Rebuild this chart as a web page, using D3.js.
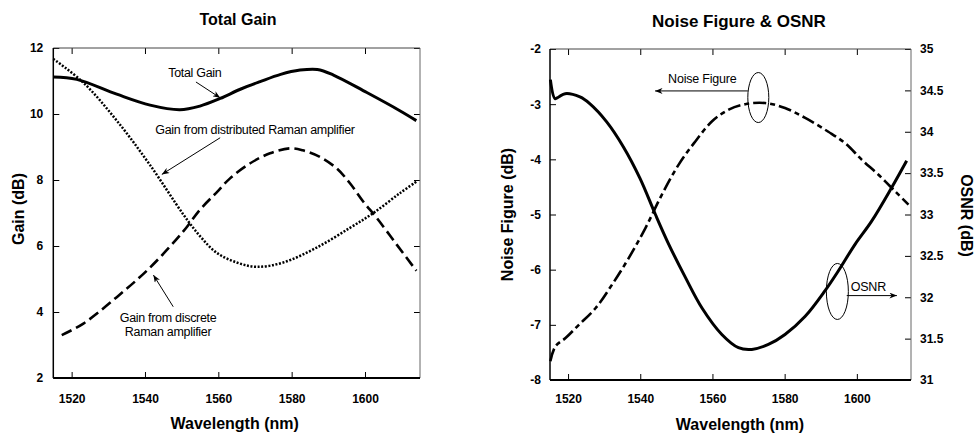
<!DOCTYPE html>
<html>
<head>
<meta charset="utf-8">
<script src="https://cdn.jsdelivr.net/npm/d3@7"></script>
<style>
  body { margin: 0; background: #fff; }
  text { font-family: "Liberation Sans", Arial, sans-serif; }
</style>
</head>
<body>
<svg id="chart" width="980" height="437"></svg>
<script>
// ---- left panel: Total Gain ----
const wlTicks = [1520, 1540, 1560, 1580, 1600];
const gainTicks = [2, 4, 6, 8, 10, 12];

const totalGainWl = [1515, 1521.4, 1532.3, 1541.4, 1549.5, 1555, 1560.5, 1566, 1571.4, 1577, 1582.3, 1587, 1591.4, 1600.5, 1609.5, 1614];
const totalGain   = [11.12, 11.05, 10.6, 10.27, 10.13, 10.24, 10.47, 10.75, 10.98, 11.2, 11.33, 11.35, 11.18, 10.65, 10.1, 9.8];

const distWl   = [1515, 1523.2, 1532.3, 1541.4, 1550.5, 1555, 1559.5, 1565, 1570.5, 1577.7, 1586.8, 1595.9, 1602.3, 1609.5, 1614];
const distGain = [11.67, 10.95, 9.8, 8.45, 6.95, 6.3, 5.8, 5.5, 5.37, 5.5, 5.95, 6.55, 7.0, 7.6, 7.95];

const discWl   = [1517.3, 1523.2, 1532.3, 1541.4, 1550.5, 1555, 1559.5, 1563.2, 1568.6, 1574.1, 1579.5, 1583, 1587.7, 1592.3, 1595.9, 1599.5, 1603.2, 1608.6, 1614];
const discGain = [3.3, 3.65, 4.45, 5.35, 6.45, 7.1, 7.62, 8.05, 8.5, 8.81, 8.96, 8.9, 8.7, 8.35, 7.9, 7.35, 6.85, 6.05, 5.25];

// ---- right panel: Noise Figure & OSNR ----
const nfTicks = [-2, -3, -4, -5, -6, -7, -8];
const osnrTicks = [31, 31.5, 32, 32.5, 33, 33.5, 34, 34.5, 35];

const osnrWl = [1515.1, 1516.4, 1517.4, 1519.2, 1523.3, 1526, 1530.7, 1535.3, 1539.9, 1544.2, 1547.9, 1552.5, 1557.1, 1562.6, 1567.2, 1570.9, 1575.5, 1580.1, 1585.7, 1591.2, 1594.9, 1599.5, 1604.1, 1609.7, 1613.8];
const osnr   = [34.63, 34.40, 34.42, 34.46, 34.42, 34.34, 34.12, 33.82, 33.44, 33.0, 32.64, 32.24, 31.87, 31.55, 31.39, 31.37, 31.43, 31.55, 31.77, 32.08, 32.32, 32.64, 32.92, 33.33, 33.65];

const nfWl = [1515.1, 1516.5, 1519.3, 1523, 1527.6, 1532.2, 1536.8, 1541.4, 1546, 1550.6, 1555.2, 1559.9, 1564.5, 1569.1, 1574.6, 1580.1, 1585.7, 1592.1, 1596.8, 1601.4, 1606, 1610.6, 1614.3];
const nf   = [-7.66, -7.39, -7.24, -7.0, -6.70, -6.27, -5.79, -5.25, -4.64, -4.10, -3.68, -3.31, -3.10, -3.0, -2.98, -3.07, -3.25, -3.50, -3.71, -4.01, -4.28, -4.58, -4.82];

const zip = (xs, ys) => xs.map((x, i) => ({ wl: x, v: ys[i] }));

const svg = d3.select("#chart");
svg.append("rect").attr("width", 980).attr("height", 437).attr("fill", "#fff");

const defs = svg.append("defs");
defs.append("marker")
    .attr("id", "arrow")
    .attr("viewBox", "0 0 10 8")
    .attr("refX", 10).attr("refY", 4)
    .attr("markerWidth", 8).attr("markerHeight", 6)
    .attr("markerUnits", "userSpaceOnUse")
    .attr("orient", "auto")
    .append("path")
    .attr("d", "M0,0 L10,4 L0,8 L3,4 z")
    .attr("fill", "#000");

function styleAxis(sel) {
    sel.select(".domain").remove();
    sel.selectAll(".tick line").attr("stroke", "#000").attr("stroke-width", 1);
    sel.selectAll(".tick text")
        .attr("fill", "#000")
        .style("font-size", "12px")
        .style("font-weight", "bold");
}

function frame(g, w, h) {
    g.append("line").attr("x1", 0).attr("x2", w).attr("y1", 0).attr("y2", 0)
        .attr("stroke", "#444").attr("stroke-width", 1);
    g.append("line").attr("x1", w).attr("x2", w).attr("y1", 0).attr("y2", h)
        .attr("stroke", "#666").attr("stroke-width", 1);
    g.append("line").attr("x1", 0).attr("x2", 0).attr("y1", 0).attr("y2", h)
        .attr("stroke", "#000").attr("stroke-width", 1.5);
    g.append("line").attr("x1", 0).attr("x2", w).attr("y1", h).attr("y2", h)
        .attr("stroke", "#000").attr("stroke-width", 2);
}

const fmt = d => String(d);

// ================= LEFT =================
const L = { left: 53.3, top: 48, w: 366.7, h: 330 };
const gL = svg.append("g").attr("transform", `translate(${L.left},${L.top})`);

const xL = d3.scaleLinear().domain([1515, 1615]).range([0, L.w]);
const yL = d3.scaleLinear().domain([2, 12]).range([L.h, 0]);

gL.append("g").attr("transform", `translate(0,${L.h})`)
    .call(d3.axisBottom(xL).tickValues(wlTicks).tickSize(-6).tickSizeOuter(0).tickPadding(16).tickFormat(fmt))
    .call(styleAxis);
gL.append("g")
    .call(d3.axisTop(xL).tickValues(wlTicks).tickSize(-6).tickSizeOuter(0).tickFormat(""))
    .call(styleAxis);
gL.append("g")
    .call(d3.axisLeft(yL).tickValues(gainTicks).tickSize(-6).tickSizeOuter(0).tickPadding(10).tickFormat(fmt))
    .call(styleAxis);
gL.append("g").attr("transform", `translate(${L.w},0)`)
    .call(d3.axisRight(yL).tickValues(gainTicks).tickSize(-6).tickSizeOuter(0).tickFormat(""))
    .call(styleAxis);
frame(gL, L.w, L.h);

const lineL = d3.line().x(d => xL(d.wl)).y(d => yL(d.v)).curve(d3.curveCatmullRom.alpha(0.5));

gL.append("path").datum(zip(distWl, distGain))
    .attr("fill", "none").attr("stroke", "#000").attr("stroke-width", 2.5)
    .attr("stroke-dasharray", "2,1.6").attr("d", lineL);
gL.append("path").datum(zip(discWl, discGain))
    .attr("fill", "none").attr("stroke", "#000").attr("stroke-width", 2.6)
    .attr("stroke-dasharray", "11,5").attr("d", lineL);
gL.append("path").datum(zip(totalGainWl, totalGain))
    .attr("fill", "none").attr("stroke", "#000").attr("stroke-width", 3)
    .attr("d", lineL);

// annotations (data coordinates)
const leftLabels = [
    { text: "Total Gain", wl: 1553.6, v: 11.11 },
    { text: "Gain from distributed Raman amplifier", wl: 1570.0, v: 9.40 },
    { text: "Gain from discrete", wl: 1546.3, v: 3.70 },
    { text: "Raman amplifier", wl: 1546.3, v: 3.27 }
];
const leftArrows = [
    { wl0: 1553.9, v0: 10.97, wl1: 1560.5, v1: 10.49 },
    { wl0: 1560.5, v0: 9.28, wl1: 1544.6, v1: 8.17 },
    { wl0: 1547.7, v0: 4.16, wl1: 1542.3, v1: 5.12 }
];
gL.selectAll("text.ann").data(leftLabels).enter().append("text")
    .attr("class", "ann")
    .attr("x", d => xL(d.wl)).attr("y", d => yL(d.v))
    .attr("text-anchor", "middle")
    .style("font-size", "12.5px").style("letter-spacing", "-0.3px")
    .attr("fill", "#000").text(d => d.text);
gL.selectAll("line.arr").data(leftArrows).enter().append("line")
    .attr("class", "arr")
    .attr("x1", d => xL(d.wl0)).attr("y1", d => yL(d.v0))
    .attr("x2", d => xL(d.wl1)).attr("y2", d => yL(d.v1))
    .attr("stroke", "#000").attr("stroke-width", 1)
    .attr("marker-end", "url(#arrow)");

// titles / axis labels
svg.append("text").attr("x", 238).attr("y", 25).attr("text-anchor", "middle")
    .style("font-size", "16px").style("font-weight", "bold").text("Total Gain");
svg.append("text").attr("x", L.left + L.w / 2 - 2).attr("y", 429).attr("text-anchor", "middle")
    .style("font-size", "16px").style("font-weight", "bold").text("Wavelength (nm)");
svg.append("text").attr("transform", `translate(24,${L.top + L.h / 2 - 4}) rotate(-90)`)
    .attr("text-anchor", "middle")
    .style("font-size", "16px").style("font-weight", "bold").text("Gain (dB)");

// ================= RIGHT =================
const R = { left: 550, top: 49, w: 361, h: 331 };
const gR = svg.append("g").attr("transform", `translate(${R.left},${R.top})`);

const xR = d3.scaleLinear().domain([1515, 1615]).range([0, R.w]);
const yNF = d3.scaleLinear().domain([-8, -2]).range([R.h, 0]);
const yOS = d3.scaleLinear().domain([31, 35]).range([R.h, 0]);

gR.append("g").attr("transform", `translate(0,${R.h})`)
    .call(d3.axisBottom(xR).tickValues(wlTicks).tickSize(-6).tickSizeOuter(0).tickPadding(14).tickFormat(fmt))
    .call(styleAxis);
gR.append("g")
    .call(d3.axisTop(xR).tickValues(wlTicks).tickSize(-6).tickSizeOuter(0).tickFormat(""))
    .call(styleAxis);
gR.append("g")
    .call(d3.axisLeft(yNF).tickValues(nfTicks).tickSize(-6).tickSizeOuter(0).tickPadding(9).tickFormat(fmt))
    .call(styleAxis);
gR.append("g").attr("transform", `translate(${R.w},0)`)
    .call(d3.axisRight(yOS).tickValues(osnrTicks).tickSize(-6).tickSizeOuter(0).tickPadding(9).tickFormat(fmt))
    .call(styleAxis);
frame(gR, R.w, R.h);

const lineNF = d3.line().x(d => xR(d.wl)).y(d => yNF(d.v)).curve(d3.curveCatmullRom.alpha(0.5));
const lineOS = d3.line().x(d => xR(d.wl)).y(d => yOS(d.v)).curve(d3.curveCatmullRom.alpha(0.5));

gR.append("path").datum(zip(nfWl, nf))
    .attr("fill", "none").attr("stroke", "#000").attr("stroke-width", 2.6)
    .attr("stroke-dasharray", "13,4,5,4").attr("d", lineNF);
gR.append("path").datum(zip(osnrWl, osnr))
    .attr("fill", "none").attr("stroke", "#000").attr("stroke-width", 3)
    .attr("d", lineOS);

// annotations
const nfNote = { text: "Noise Figure", wl: 1557.2, v: -2.62, arrowFrom: 1569.8, arrowTo: 1544.1, arrowV: -2.76, ellWl: 1572.7, ellV: -2.88 };
const osNote = { text: "OSNR", wl: 1598.3, v: 32.08, arrowFrom: 1597.2, arrowTo: 1611.1, arrowV: 32.02, ellWl: 1594.6, ellV: 32.07 };

gR.append("text").attr("x", xR(nfNote.wl)).attr("y", yNF(nfNote.v)).attr("text-anchor", "middle")
    .style("font-size", "12.5px").style("letter-spacing", "-0.2px").text(nfNote.text);
gR.append("line")
    .attr("x1", xR(nfNote.arrowFrom)).attr("x2", xR(nfNote.arrowTo))
    .attr("y1", yNF(nfNote.arrowV)).attr("y2", yNF(nfNote.arrowV))
    .attr("stroke", "#000").attr("stroke-width", 1).attr("marker-end", "url(#arrow)");
gR.append("ellipse").attr("cx", xR(nfNote.ellWl)).attr("cy", yNF(nfNote.ellV))
    .attr("rx", 10.5).attr("ry", 25).attr("fill", "none").attr("stroke", "#000").attr("stroke-width", 1);

gR.append("text").attr("x", xR(osNote.wl)).attr("y", yOS(osNote.v)).attr("text-anchor", "start")
    .style("font-size", "12.5px").style("letter-spacing", "-0.2px").text(osNote.text);
gR.append("line")
    .attr("x1", xR(osNote.arrowFrom)).attr("x2", xR(osNote.arrowTo))
    .attr("y1", yOS(osNote.arrowV)).attr("y2", yOS(osNote.arrowV))
    .attr("stroke", "#000").attr("stroke-width", 1).attr("marker-end", "url(#arrow)");
gR.append("ellipse").attr("cx", xR(osNote.ellWl)).attr("cy", yOS(osNote.ellV))
    .attr("rx", 11).attr("ry", 28).attr("fill", "none").attr("stroke", "#000").attr("stroke-width", 1);

svg.append("text").attr("x", 739).attr("y", 27).attr("text-anchor", "middle")
    .style("font-size", "17px").style("font-weight", "bold").text("Noise Figure & OSNR");
svg.append("text").attr("x", 740).attr("y", 430).attr("text-anchor", "middle")
    .style("font-size", "16px").style("font-weight", "bold").text("Wavelength (nm)");
svg.append("text").attr("transform", `translate(513,${R.top + R.h / 2}) rotate(-90)`)
    .attr("text-anchor", "middle")
    .style("font-size", "16px").style("font-weight", "bold").text("Noise Figure (dB)");
svg.append("text").attr("transform", `translate(961,${R.top + R.h / 2 + 1}) rotate(90)`)
    .attr("text-anchor", "middle")
    .style("font-size", "16px").style("font-weight", "bold").text("OSNR (dB)");
</script>
</body>
</html>
